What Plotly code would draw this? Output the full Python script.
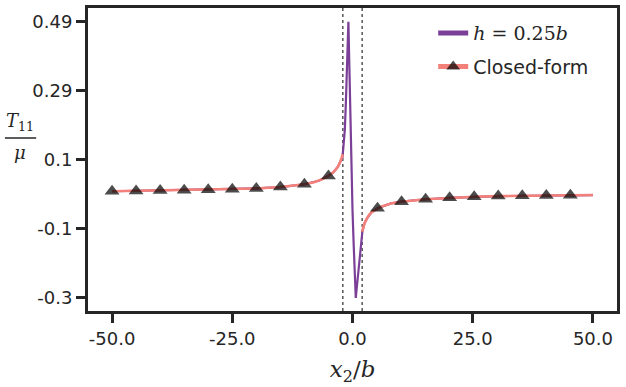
import plotly.graph_objects as go

# FEM result, h = 0.25b
x_fem = [-50, -40, -30, -20, -15, -10, -7, -5, -4, -3, -2.5, -2.1, -1.9, -1.6, -1.4,
         -1.2, -1.0, -0.85, -0.65, -0.5, -0.25, 0.0, 0.25, 0.45, 0.6, 0.68, 0.8, 1.0,
         1.37, 1.7, 2.05, 2.5, 3, 4, 5.2, 8, 10.2, 15.2, 20.2, 30.3, 40.3, 50]
t_fem = [0.004, 0.006, 0.008, 0.012, 0.016, 0.024, 0.034, 0.048, 0.058, 0.075, 0.09, 0.10,
         0.13, 0.18, 0.25, 0.32, 0.41, 0.49, 0.36, 0.25, 0.08, -0.05, -0.15, -0.24, -0.29,
         -0.302, -0.285, -0.259, -0.212, -0.164, -0.112, -0.088, -0.074, -0.056, -0.045,
         -0.031, -0.026, -0.019, -0.015, -0.010, -0.008, -0.007]

# closed-form solution, two branches outside the core
x_cf_left = [-50, -45, -40, -35, -30, -25, -20, -15, -10, -8, -6, -5, -4, -3.5, -3, -2.5, -2]
t_cf_left = [0.004, 0.005, 0.006, 0.007, 0.008, 0.010, 0.012, 0.016, 0.024, 0.030, 0.040,
             0.048, 0.058, 0.066, 0.075, 0.090, 0.110]
x_cf_right = [2, 2.5, 3, 3.5, 4, 5.2, 6, 8, 10.2, 15.2, 20.2, 25.3, 30.3, 35.3, 40.3, 45.3, 50]
t_cf_right = [-0.112, -0.088, -0.074, -0.063, -0.056, -0.045, -0.040, -0.031, -0.026, -0.019,
              -0.015, -0.012, -0.010, -0.009, -0.008, -0.0075, -0.007]

# points carrying a triangle marker
marked_x = [-50, -45, -40, -35, -30, -25, -20, -15, -10, -5,
            5.2, 10.2, 15.2, 20.2, 25.3, 30.3, 35.3, 40.3, 45.3]

core_edges = [-2, 2]

x_ticks = [-50, -25, 0, 25, 50]
x_ticktext = ["-50.0", "-25.0", "0.0", "25.0", "50.0"]
y_ticks = [-0.3, -0.1025, 0.095, 0.2925, 0.49]
y_ticktext = ["-0.3", "-0.1", "0.1", "0.29", "0.49"]

DARK = "#262626"
PURPLE = "#7b3f98"
SALMON = "#f4807a"

x_cf = x_cf_left + [None] + x_cf_right
t_cf = t_cf_left + [None] + t_cf_right
sizes = [13 if v in marked_x else 0 for v in x_cf]

fig = go.Figure()
fig.add_trace(go.Scatter(
    x=x_fem, y=t_fem, mode="lines",
    name="<span style='font-family:DejaVu Serif'><i>h</i> = 0.25<i>b</i></span>",
    line=dict(color=PURPLE, width=2.2),
    legendgroup="fem", legendrank=1,
))
fig.add_trace(go.Scatter(
    x=x_cf, y=t_cf, mode="lines+markers", name="Closed-form",
    line=dict(color=SALMON, width=2.6),
    marker=dict(symbol="triangle-up", size=sizes, color="black", line=dict(width=0)),
    connectgaps=False,
    legendgroup="cf", legendrank=2,
))

for xv in core_edges:
    fig.add_shape(type="line", xref="x", yref="paper", x0=xv, x1=xv, y0=0, y1=1,
                  line=dict(color="black", width=1, dash="dot"), layer="below")

# y label as a stacked fraction
fig.add_annotation(text="<i>T</i><sub>11</sub>", xref="paper", yref="paper",
                   x=-0.128, y=0.578, showarrow=False, xanchor="center", yanchor="bottom",
                   font=dict(family="DejaVu Serif", size=18, color=DARK))
fig.add_annotation(text="<i>μ</i>", xref="paper", yref="paper",
                   x=-0.128, y=0.566, showarrow=False, xanchor="center", yanchor="top",
                   font=dict(family="DejaVu Serif", size=18, color=DARK))
fig.add_shape(type="line", xref="paper", yref="paper", x0=-0.157, x1=-0.098,
              y0=0.571, y1=0.571, line=dict(color=DARK, width=1.3))

axis_common = dict(
    showline=True, linecolor=DARK, linewidth=3, mirror=True,
    ticks="outside", ticklen=9, tickwidth=2.5, tickcolor=DARK,
    showgrid=False, zeroline=False, automargin=False,
    tickfont=dict(family="DejaVu Sans", size=18, color=DARK),
)

fig.update_layout(
    width=626, height=387,
    margin=dict(l=88, r=9, t=8, b=76),
    paper_bgcolor="white", plot_bgcolor="white",
    showlegend=True,
    legend=dict(x=0.955, y=0.98, xanchor="right", yanchor="top",
                bgcolor="rgba(0,0,0,0)", itemsizing="constant",
                font=dict(family="DejaVu Sans", size=19, color=DARK),
                tracegroupgap=6),
    xaxis=dict(axis_common, range=[-55, 55], tickvals=x_ticks, ticktext=x_ticktext,
               title=dict(text="<i>x</i><sub>2</sub>/<i>b</i>", standoff=14,
                          font=dict(family="DejaVu Serif", size=23, color=DARK))),
    yaxis=dict(axis_common, range=[-0.3395, 0.5295], tickvals=y_ticks, ticktext=y_ticktext),
)

# drop the browser's default page margin so the figure sits at the window corner
fig.write_html("out.html", config={"displayModeBar": False},
               post_script="document.body.style.margin = '0';")
